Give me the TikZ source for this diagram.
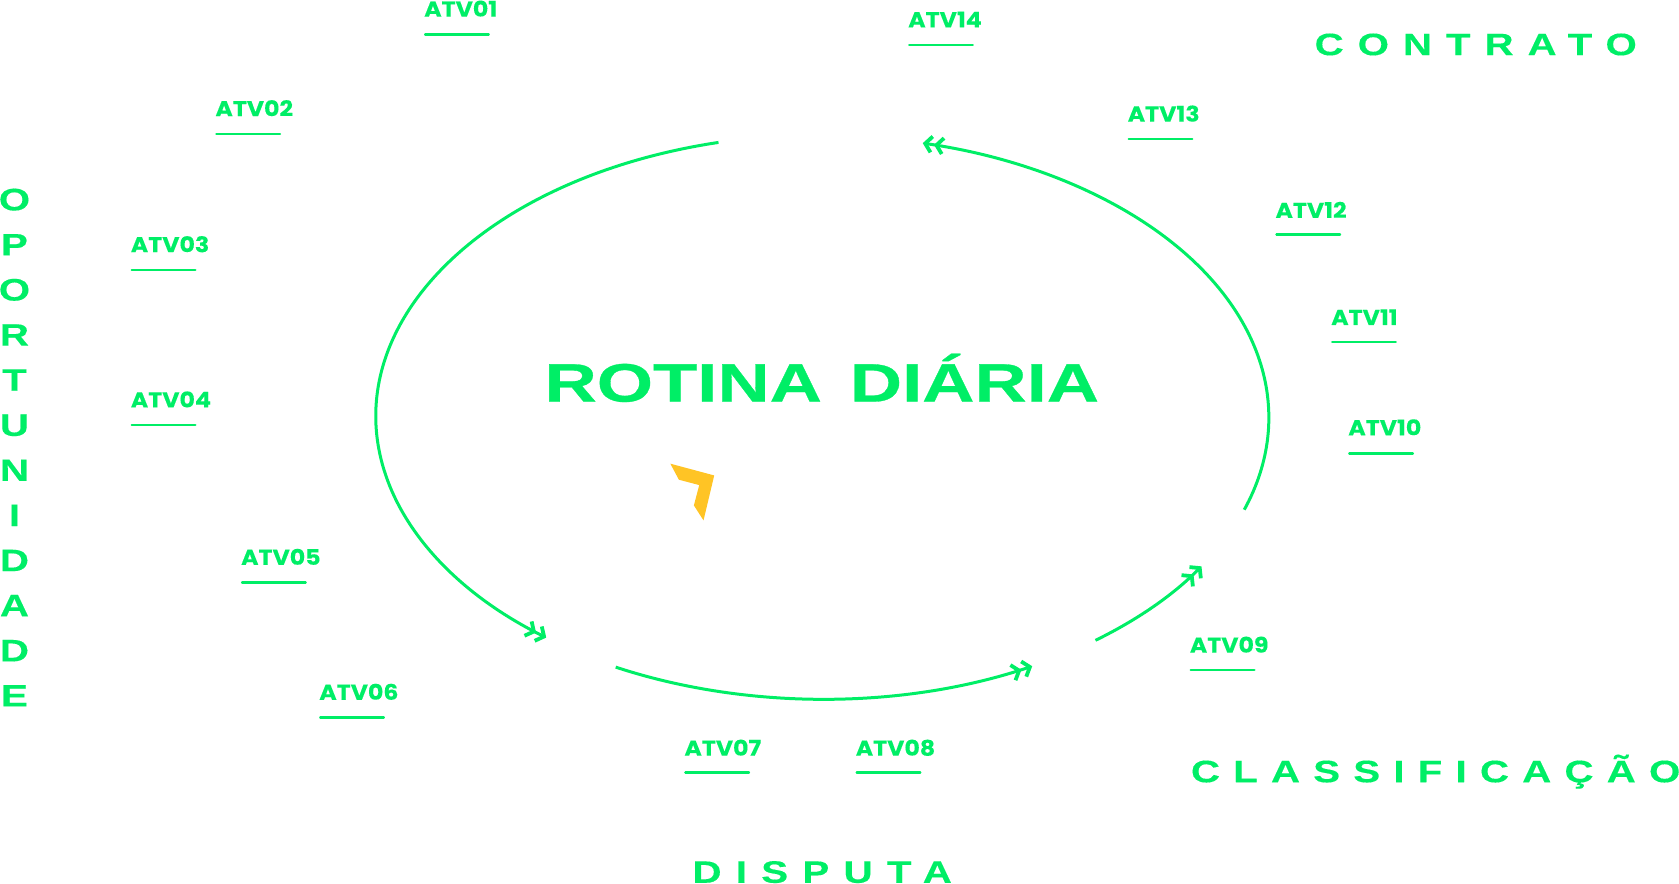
\documentclass[tikz,border=0pt]{standalone}
\usepackage{fontspec}
\usetikzlibrary{arrows.meta}
\newfontfamily\wideF[FakeStretch=1.34,FakeBold=0.6]{Liberation Sans Bold}
\newfontfamily\wideV[FakeStretch=1.3,FakeBold=0.3]{Liberation Sans Bold}
\newfontfamily\wideS[FakeStretch=1.3,FakeBold=0.3,LetterSpace=45]{Liberation Sans Bold}
\newfontfamily\wideD[FakeStretch=1.3,FakeBold=0.3,LetterSpace=46]{Liberation Sans Bold}
\newfontfamily\wideC[FakeStretch=1.3,FakeBold=0.3,LetterSpace=42.5]{Liberation Sans Bold}
\newfontfamily\atvF[FakeStretch=1.1,FakeBold=0.2]{Poppins Bold}
\definecolor{vgreen}{HTML}{00EE66}
\definecolor{vyellow}{HTML}{FFC425}
\tikzset{
  atvlabel/.style={anchor=base west,inner sep=0pt,text=vgreen,font=\atvF\fontsize{21.5}{24}\selectfont},
  atvrule/.style={draw=vgreen,line width=2.2pt,line cap=round},
  bigtitle/.style={anchor=base,inner sep=0pt,text=vgreen,font=\wideF\fontsize{54}{60}\selectfont},
  phase/.style={anchor=base west,inner sep=0pt,text=vgreen,font=\wideS\fontsize{31}{36}\selectfont},
  loopline/.style={draw=vgreen,line width=3pt},
  looptip/.style={-{Straight Barb[length=6.5pt,width=16pt,line width=3.8pt,sep=0.5pt]Straight Barb[length=6.5pt,width=16pt,line width=3.8pt,sep=0pt]}},
}
\begin{document}
\begin{tikzpicture}[x=1.0708pt,y=-1.0708pt]
\useasboundingbox (0,0) rectangle (1568,825.55);
% cycle arcs
\coordinate (aS) at (671,133);
\coordinate (bS) at (575,623);
\coordinate (cS) at (1023,598);
\coordinate (dS) at (1162,476);
\draw[loopline,looptip] (aS) arc[start angle=256.55,end angle=128.2,x radius=417,y radius=263];
\draw[loopline,looptip] (bS) arc[start angle=117.6,end angle=62,x radius=417,y radius=263];
\draw[loopline,looptip] (cS) arc[start angle=52.3,end angle=31.9,x radius=417,y radius=263];
\draw[loopline,looptip] (dS) arc[start angle=19.1,end angle=-77,x radius=417,y radius=263];
% title
\node[bigtitle] (title) at (767.5,375) {ROTINA\hspace*{28pt}DIÁRIA};
% logo
\fill[vyellow] (626,433) -- (667,444) -- (657,486) -- (648,472) -- (653,453) -- (634,448) -- cycle;
% activities
\foreach \n/\x/\y/\u in {01/396/15.5/32.3,02/201/108.5/125,03/122/235.5/252,04/122/380.5/397,05/225/527.5/544,06/298/653.5/670,07/639/705.7/721.5,08/799/705.7/721.5,09/1111/609.5/625.5,10/1259/406.5/423.5,11/1243/303.5/319.5,12/1191/203.5/219,13/1053/113.5/129.5,14/848/25.5/42}{
  \node[atvlabel] (atv\n) at (\x,\y) {ATV\n};
  \coordinate (ruleA\n) at (\x+1,\u);
  \coordinate (ruleB\n) at (\x+60.5,\u);
  \draw[atvrule] (ruleA\n) -- (ruleB\n);
}
% phases
\node[phase] (contrato) at (1227.5,51.5) {CONTRATO};
\node[phase,font=\wideC\fontsize{31}{36}\selectfont] (classif) at (1112,730.5) {CLASSIFICAÇÃO};
\node[phase,font=\wideD\fontsize{31}{36}\selectfont] (disputa) at (646.5,824.4) {DISPUTA};
\node[anchor=north,inner sep=0pt,text=vgreen,align=center,font=\wideV\fontsize{31}{45.1}\selectfont] (oport) at (13.5,176) {O\\P\\O\\R\\T\\U\\N\\I\\D\\A\\D\\E};
\end{tikzpicture}
\end{document}
